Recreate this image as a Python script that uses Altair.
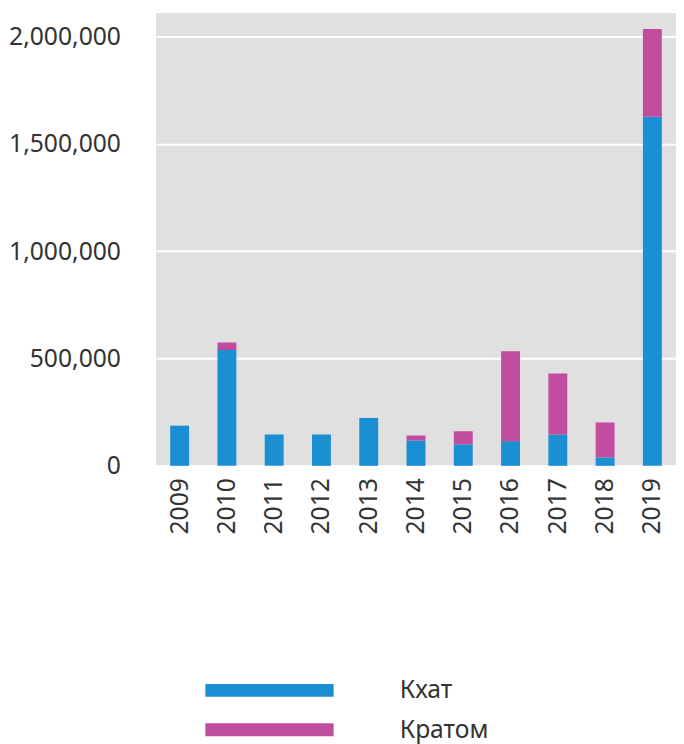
import altair as alt
import pandas as pd

years = ["2009", "2010", "2011", "2012", "2013", "2014", "2015", "2016", "2017", "2018", "2019"]
khat = [187000, 540000, 146000, 146000, 223000, 118000, 100000, 115000, 146000, 39000, 1626000]
kratom = [0, 35000, 0, 0, 0, 23000, 61000, 419000, 284000, 163000, 409000]
series = ["Кхат", "Кратом"]
colors = ["#1B8FD3", "#C04C9F"]
y_ticks = [0, 500000, 1000000, 1500000, 2000000]

rows = []
for i, yr in enumerate(years):
    rows.append({"year": yr, "series": series[0], "value": khat[i], "ord": 0})
    rows.append({"year": yr, "series": series[1], "value": kratom[i], "ord": 1})
df = pd.DataFrame(rows)

FONT = "Noto Sans"
legend_path = "M-10,-1L10,-1L10,1L-10,1Z"

chart = alt.Chart(df).mark_bar().encode(
    x=alt.X("year:N", sort=years,
            scale=alt.Scale(paddingInner=0.6, paddingOuter=0.3),
            axis=alt.Axis(title=None, labelAngle=270, labelPadding=12, ticks=False,
                          domain=False, labelFontSize=25, labelFont=FONT,
                          labelColor="#333333", grid=False)),
    y=alt.Y("value:Q", stack="zero",
            scale=alt.Scale(domain=[0, 2110000], nice=False),
            axis=alt.Axis(title=None, values=y_ticks, format=",d", ticks=False,
                          domain=False, labelFontSize=25, labelFont=FONT,
                          labelColor="#333333", labelPadding=36,
                          gridColor="white", gridWidth=2)),
    color=alt.Color("series:N", sort=series,
                    scale=alt.Scale(domain=series, range=colors),
                    legend=alt.Legend(title=None, orient="none", legendX=50, legendY=674,
                                      symbolType=legend_path, symbolSize=169,
                                      symbolStrokeWidth=0, symbolOffset=52.5,
                                      labelOffset=119.5, labelFontSize=25, labelFont=FONT,
                                      labelColor="#333333", rowPadding=14, padding=0)),
    order=alt.Order("ord:Q", sort="ascending"),
).properties(
    width=527, height=459,
    padding={"left": 0, "top": 0, "right": 0, "bottom": 0},
).configure_view(
    fill="#E0E0E0", stroke=None
)

chart.save("out.html", embed_options={"renderer": "svg", "actions": False})
